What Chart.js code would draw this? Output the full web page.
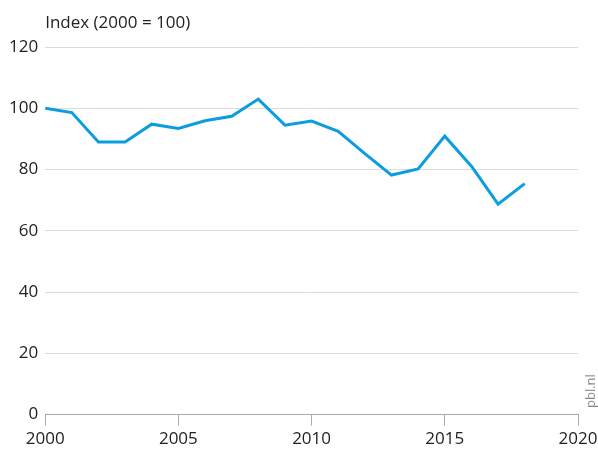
<!DOCTYPE html>
<html>
<head>
<meta charset="utf-8">
<script src="https://cdn.jsdelivr.net/npm/chart.js@4"></script>
<style>
  html, body { margin: 0; padding: 0; background: #fff; }
  #wrap { width: 598px; height: 452px; position: relative; }
</style>
</head>
<body>
<div id="wrap"><canvas id="chart"></canvas></div>
<script>
// Data
var years = [2000, 2001, 2002, 2003, 2004, 2005, 2006, 2007, 2008, 2009,
             2010, 2011, 2012, 2013, 2014, 2015, 2016, 2017, 2018];
var indexValues = [100, 98.6, 89.0, 89.0, 94.8, 93.4, 95.9, 97.4, 103.0, 94.5,
                   95.8, 92.5, 85.2, 78.2, 80.2, 90.9, 81.1, 68.7, 75.4];
var yTicks = [0, 20, 40, 60, 80, 100, 120];
var xTicks = [2000, 2005, 2010, 2015, 2020];
var unitLabel = 'Index (2000 = 100)';
var sourceLabel = 'pbl.nl';

var fontFamily = '"Open Sans", "Noto Sans", sans-serif';

// Draws the unit label above the plot and the rotated source tag
var extraText = {
    id: 'extraText',
    afterDraw: function (chart) {
        var ctx = chart.ctx;
        var area = chart.chartArea;
        ctx.save();
        ctx.fillStyle = '#222';
        ctx.font = '17px ' + fontFamily;
        ctx.textAlign = 'left';
        ctx.textBaseline = 'alphabetic';
        ctx.fillText(unitLabel, area.left, 28);

        ctx.translate(598, 408);
        ctx.rotate(-Math.PI / 2);
        ctx.fillStyle = '#888';
        ctx.font = '13px ' + fontFamily;
        ctx.textBaseline = 'bottom';
        ctx.fillText(sourceLabel, 0, 0);
        ctx.restore();
    }
};

var points = years.map(function (y, i) { return { x: y, y: indexValues[i] }; });

new Chart(document.getElementById('chart'), {
    type: 'line',
    data: {
        datasets: [{
            data: points,
            borderColor: '#0a9de0',
            borderWidth: 3,
            pointRadius: 0,
            tension: 0,
            fill: false
        }]
    },
    options: {
        responsive: true,
        maintainAspectRatio: false,
        animation: false,
        layout: { padding: { top: 47, left: 2, right: 0, bottom: 0 } },
        plugins: {
            legend: { display: false },
            tooltip: { enabled: false }
        },
        scales: {
            x: {
                type: 'linear',
                min: 2000,
                max: 2020,
                afterBuildTicks: function (axis) {
                    axis.ticks = xTicks.map(function (v) { return { value: v }; });
                },
                afterFit: function (axis) {
                    axis.paddingRight = 20;
                },
                grid: {
                    drawOnChartArea: false,
                    drawTicks: true,
                    tickLength: 11,
                    color: '#aaa'
                },
                border: { display: true, color: '#aaa', width: 1 },
                ticks: {
                    color: '#222',
                    font: { family: fontFamily, size: 17 },
                    padding: 3,
                    maxRotation: 0,
                    callback: function (v) { return String(v); }
                }
            },
            y: {
                min: 0,
                max: 120,
                afterBuildTicks: function (axis) {
                    axis.ticks = yTicks.map(function (v) { return { value: v }; });
                },
                grid: {
                    color: '#dcdcdc',
                    drawTicks: false
                },
                border: { display: false },
                ticks: {
                    color: '#222',
                    font: { family: fontFamily, size: 17 },
                    padding: 7
                }
            }
        }
    },
    plugins: [extraText]
});
</script>
</body>
</html>
